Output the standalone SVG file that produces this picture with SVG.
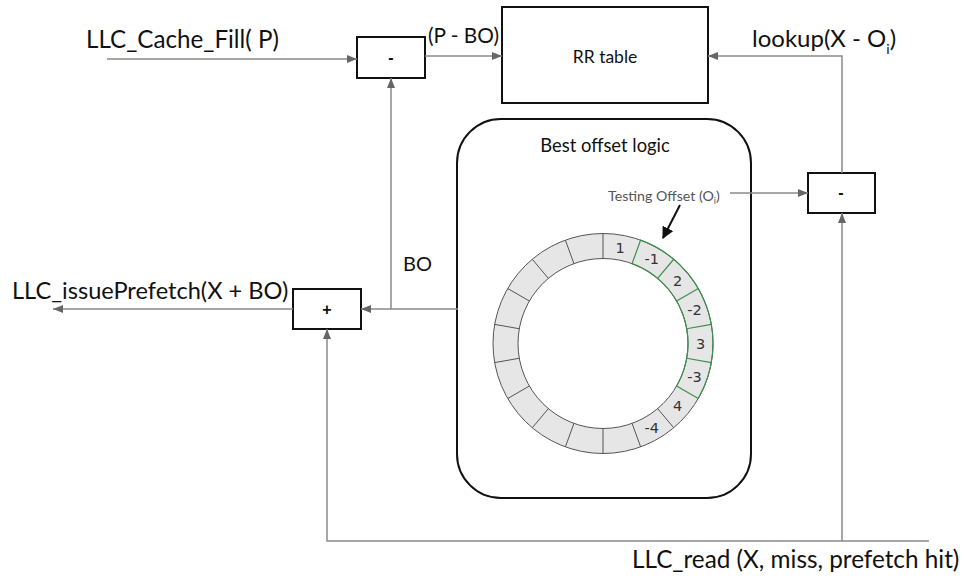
<svg xmlns="http://www.w3.org/2000/svg" width="963" height="577" viewBox="0 0 963 577">
<style>
.box{fill:#fff;stroke:#111;stroke-width:2}
.con{fill:none;stroke:#8a8a8a;stroke-width:1.5}
.lbl{font-family:Lato,"Liberation Sans",sans-serif;fill:#111}
.op{font-family:"Liberation Sans",sans-serif;font-weight:bold;font-size:16px;fill:#111;text-anchor:middle}
.seg{font-family:"DejaVu Sans",sans-serif;font-size:14.5px;fill:#333;text-anchor:middle;dominant-baseline:central}
.rl{stroke:#555;stroke-width:1}
.gl{stroke:#3d8f4c;stroke-width:1.2}
</style>
<defs>
<marker id="ah" viewBox="0 0 10 8" refX="10" refY="4" markerWidth="10" markerHeight="8" markerUnits="userSpaceOnUse" orient="auto">
<path d="M0,0 L10,4 L0,8 z" fill="#666"/>
</marker>
<marker id="ahb" viewBox="0 0 10 10" refX="9" refY="5" markerWidth="12" markerHeight="12" markerUnits="userSpaceOnUse" orient="auto">
<path d="M0,0 L10,5 L0,10 z" fill="#111"/>
</marker>
</defs>

<g id="best-offset-logic">
<rect class="box" x="457" y="119" width="294" height="379" rx="44"/>
<text class="lbl" x="605" y="152" font-size="18.4" text-anchor="middle">Best offset logic</text>
<g id="ring">
<circle cx="603" cy="343.5" r="97.5" fill="none" stroke="#e6e6e6" stroke-width="25"/>
<circle cx="603" cy="343.5" r="110" fill="none" stroke="#555" stroke-width="1"/>
<circle cx="603" cy="343.5" r="85" fill="none" stroke="#555" stroke-width="1"/>
<line class="rl" x1="603" y1="258.5" x2="603" y2="233.5"/>
<line class="rl" x1="657.64" y1="408.61" x2="673.71" y2="427.76"/>
<line class="rl" x1="632.07" y1="423.37" x2="640.62" y2="446.87"/>
<line class="rl" x1="603" y1="428.5" x2="603" y2="453.5"/>
<line class="rl" x1="573.93" y1="423.37" x2="565.38" y2="446.87"/>
<line class="rl" x1="548.36" y1="408.61" x2="532.29" y2="427.76"/>
<line class="rl" x1="529.39" y1="386" x2="507.74" y2="398.5"/>
<line class="rl" x1="519.29" y1="358.26" x2="494.67" y2="362.6"/>
<line class="rl" x1="519.29" y1="328.74" x2="494.67" y2="324.4"/>
<line class="rl" x1="529.39" y1="301" x2="507.74" y2="288.5"/>
<line class="rl" x1="548.36" y1="278.39" x2="532.29" y2="259.24"/>
<line class="rl" x1="573.93" y1="263.63" x2="565.38" y2="240.13"/>
<path d="M640.62,240.13 A110,110 0 0,1 698.26,398.5 L676.61,386 A85,85 0 0,0 632.07,263.62 Z" fill="none" stroke="#3d8f4c" stroke-width="1.2"/>
<line class="gl" x1="657.64" y1="278.39" x2="673.71" y2="259.24"/>
<line class="gl" x1="676.61" y1="301" x2="698.26" y2="288.5"/>
<line class="gl" x1="686.71" y1="328.74" x2="711.33" y2="324.4"/>
<line class="gl" x1="686.71" y1="358.26" x2="711.33" y2="362.6"/>
<text class="seg" x="620" y="247.5">1</text>
<text class="seg" x="651.7" y="259">-1</text>
<text class="seg" x="677.7" y="280.8">2</text>
<text class="seg" x="694.6" y="310.2">-2</text>
<text class="seg" x="700.5" y="343.5">3</text>
<text class="seg" x="694.6" y="376.8">-3</text>
<text class="seg" x="677.7" y="406.2">4</text>
<text class="seg" x="651.7" y="427.9">-4</text>
</g>
<text x="608" y="201" font-family="Lato,'Liberation Sans',sans-serif" font-size="14.2" fill="#555">Testing Offset (O<tspan font-size="9" dy="3">i</tspan><tspan dy="-3">)</tspan></text>
</g>

<g id="minus-top">
<rect class="box" x="357" y="37" width="68" height="41"/>
<text class="op" x="391" y="63">-</text>
</g>

<g id="rr-table">
<rect class="box" x="502" y="7" width="206" height="96"/>
<text class="lbl" x="605" y="63" font-size="17.5" text-anchor="middle">RR table</text>
</g>

<g id="minus-right">
<rect class="box" x="808" y="173" width="67" height="40"/>
<text class="op" x="841" y="198">-</text>
</g>

<g id="plus">
<rect class="box" x="293" y="289" width="68" height="40"/>
<text class="op" x="327" y="315">+</text>
</g>

<g id="connectors">
<path class="con" d="M107,59 H357" marker-end="url(#ah)"/>
<path class="con" d="M425,56 H502" marker-end="url(#ah)"/>
<path class="con" d="M458,309 H361" marker-end="url(#ah)"/>
<path class="con" d="M391,309 V78" marker-end="url(#ah)"/>
<path class="con" d="M293,309 H53" marker-end="url(#ah)"/>
<path class="con" d="M929,541 H327 V329" marker-end="url(#ah)"/>
<path class="con" d="M842,541 V213" marker-end="url(#ah)"/>
<path class="con" d="M842,173 V56 H708" marker-end="url(#ah)"/>
<path class="con" d="M730,193 H808" marker-end="url(#ah)"/>
<path d="M680,205 L663,238" stroke="#111" stroke-width="2" fill="none" marker-end="url(#ahb)"/>
</g>

<g id="labels">
<text class="lbl" x="86" y="48" font-size="24.2">LLC_Cache_Fill( P)</text>
<text class="lbl" x="428" y="43" font-size="20.8">(P - BO)</text>
<text class="lbl" x="752" y="47" font-size="24">lookup(X - O<tspan font-size="14" dy="7">i</tspan><tspan dy="-7">)</tspan></text>
<text class="lbl" x="403" y="271" font-size="20">BO</text>
<text class="lbl" x="12" y="299" font-size="23.6">LLC_issuePrefetch(X + BO)</text>
<text class="lbl" x="632" y="568" font-size="24.3">LLC_read (X, miss, prefetch hit)</text>
</g>
</svg>
